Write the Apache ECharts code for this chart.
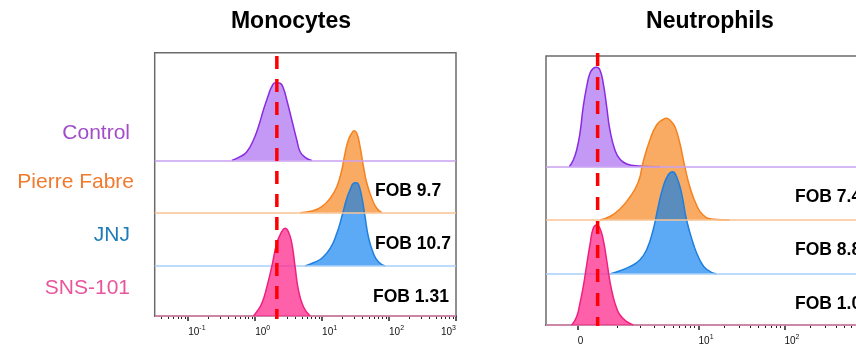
<!DOCTYPE html>
<html><head><meta charset="utf-8">
<script src="https://cdn.jsdelivr.net/npm/echarts@6/dist/echarts.min.js"></script>
<style>html,body{margin:0;padding:0;background:#fff;overflow:hidden;width:856px;height:346px}#c{width:900px;height:346px}</style>
</head><body><div id="c"></div>
<script>
// ================= DATA =================
const groups = ['Control', 'Pierre Fabre', 'JNJ', 'SNS-101'];
const panelTitles = ['Monocytes', 'Neutrophils'];
const monoFob = ['FOB 9.7', 'FOB 10.7', 'FOB 1.31'];
const neutFob = ['FOB 7.4', 'FOB 8.8', 'FOB 1.0'];
const monoRef = 2.11;   // dashed reference line (fluorescence)
const neutRef = 0.44;

// Monocytes (fluorescence, relative count)
const monoControlX = [0.449,0.597,0.752,0.944,1.12,1.33,1.58,1.77,1.99,2.36,2.64,2.97,3.53,4.19,4.70,5.57,7.01];
const monoControlY = [0,3.8,8.8,20.5,33.8,50.5,65.5,73.8,77.8,77.2,72.2,60.5,40.5,20.5,8.8,3.2,0];
const monoPierreX  = [4.70,7.41,9.91,13.2,16.6,19.7,22.0,24.7,27.7,30.0,33.0,36.9,41.5,46.6,55.2,65.5,77.8];
const monoPierreY  = [0,2,6,14.4,26,42.7,59.4,72.7,79.4,82,79.4,66,46,29.4,14.4,4.4,0];
const monoJnjX     = [5.57,7.41,9.9,13.2,16.6,19.7,23.4,26.8,29.3,32.2,34.8,39.1,43.8,49.1,58.3,69.2,87.1];
const monoJnjY     = [0,3.3,7.7,17.7,32.7,49.3,67.7,77.7,82.7,83.3,82,69.3,49.3,29.3,12.7,4.3,0];
const monoSnsX     = [0.944,1.06,1.26,1.50,1.77,2.11,2.50,2.80,3.14,3.53,3.95,4.43,5.26,6.62];
const monoSnsY     = [0,4.3,12.7,29.3,49.3,72.7,84.3,87.7,84.3,72.7,49.3,26,9.3,0];

// Neutrophils (fluorescence, relative count)
const neutControlX = [-0.178,-0.092,-0.021,0.048,0.118,0.191,0.263,0.337,0.416,0.496,0.581,0.673,0.766,0.920,1.093,1.357,1.914,3.50];
const neutControlY = [0,6.7,16.7,33.4,60,80,93.4,98.4,99.4,96.7,83.4,60,36.7,16.7,7.4,2.7,0.7,0];
const neutPierreX  = [0.496,0.766,1.093,1.493,1.914,2.20,2.66,3.21,3.84,4.21,4.60,5.28,6.04,6.91,7.90,9.47,11.3,14.8,23.1];
const neutPierreY  = [0,3.5,11,23,38,58,80,95,100.7,101.7,100,93.3,76.7,53.3,33.3,15,5,0.7,0];
const neutJnjX     = [0.766,1.093,1.493,2.00,2.42,2.91,3.35,3.84,4.40,4.96,5.53,6.33,7.24,8.65,10.35,12.4,16.2];
const neutJnjY     = [0,3.3,7.3,14,24,44,67.3,87.3,99,102.3,97.3,80.7,54,30.7,14,4.7,0];
const neutSnsX     = [-0.126,-0.021,0.048,0.118,0.191,0.263,0.337,0.416,0.496,0.581,0.673,0.766,0.866,0.975,1.093,1.357,1.651];
const neutSnsY     = [0,8.3,21.7,38.3,60,80,96.7,100,96.7,85,65,43.3,28,17,10,3.3,0];

// Axis ticks
const monoMajor = [0.1, 1, 10, 100, 1000];
const monoMajorLabels = ['-1', '0', '1', '2', '3'];
const neutMajor = [0, 10, 100, 1000];
const neutMajorLabels = ['0', '1', '2', '3'];

// ================= LAYOUT / STYLE =================
const FONT = '"Liberation Sans", Arial, sans-serif';
const GL = {left: 154.7, top: 52.7, width: 301.3, height: 263.3};
const GR = {left: 546, top: 56, width: 324.3, height: 269};
const monoBase = [155.5, 103.3, 50, 0];
const neutBase = [158.3, 105, 51, 0];
const lineCol = ['#8a2be2', '#f5821f', '#1e7fe0', '#f0207f'];
const fillCol = ['rgba(160,90,240,0.62)', 'rgba(246,138,40,0.72)', 'rgba(0,122,240,0.64)', 'rgba(255,40,140,0.74)'];
const baseCol = ['#c8a0f2', '#f8c593', '#a9d0f7', '#f79cc4'];
const labelCol = ['#a34cc8', '#f07a2e', '#1c7bb8', '#e8559d'];

// biexponential-like transform for neutrophil axis (decade units)
const BW = 0.784;
const T = v => Math.asinh(v / BW) / Math.LN10;

const monoMinor = [];
for (let d = -2; d <= 2; d++) for (let k = 2; k <= 9; k++) {
  const v = k * Math.pow(10, d);
  if (v > Math.pow(10, -1.5) && v < 1000) monoMinor.push(Math.log10(v));
}
const neutMinor = [];
for (let d = 0; d <= 2; d++) for (let k = (d === 0 ? 1 : 2); k <= 9; k++) neutMinor.push(T(k * Math.pow(10, d)));

const zip = (xs, ys, f) => xs.map((x, i) => [f ? f(x) : x, ys[i]]);

const rich = {
  b: {fontSize: 10, fontFamily: FONT, color: '#111', verticalAlign: 'bottom', lineHeight: 12},
  s: {fontSize: 7, fontFamily: FONT, color: '#111', verticalAlign: 'bottom', lineHeight: 12, padding: [0, 0, 5, 0]}
};

const xAxis = [
  {type: 'log', gridIndex: 0, logBase: 10, min: Math.pow(10, -1.5), max: 1000, show: false},
  {type: 'value', gridIndex: 0, position: 'bottom', min: -1.5, max: 3,
    axisLine: {show: true, onZero: false, lineStyle: {color: '#333', width: 1.5}},
    axisTick: {show: true, customValues: monoMajor.map(Math.log10), length: 5, lineStyle: {color: '#222', width: 1.5}},
    axisLabel: {show: true, customValues: monoMajor.map(Math.log10), margin: 9, align: 'left', alignMaxLabel: 'right',
      formatter: v => { const i = monoMajor.findIndex(m => Math.abs(Math.log10(m) - v) < 1e-6); return '{b|10}{s|' + monoMajorLabels[i] + '}'; },
      rich: rich},
    splitLine: {show: false}},
  {type: 'value', gridIndex: 0, position: 'bottom', min: -1.5, max: 3,
    axisLine: {show: false, onZero: false},
    axisTick: {show: true, customValues: monoMinor, length: 3, lineStyle: {color: '#222', width: 1}},
    axisLabel: {show: false}, splitLine: {show: false}},
  {type: 'value', gridIndex: 1, position: 'bottom', min: -0.3686, max: T(1000),
    axisLine: {show: true, onZero: false, lineStyle: {color: '#333', width: 1.5}},
    axisTick: {show: true, customValues: neutMajor.map(T), length: 5, lineStyle: {color: '#222', width: 1.5}},
    axisLabel: {show: true, customValues: neutMajor.map(T), margin: 9, align: 'left', alignMaxLabel: 'right',
      formatter: v => { const i = neutMajor.findIndex(m => Math.abs(T(m) - v) < 1e-6); return i === 0 ? '{b|0}' : '{b|10}{s|' + neutMajorLabels[i] + '}'; },
      rich: rich},
    splitLine: {show: false}},
  {type: 'value', gridIndex: 1, position: 'bottom', min: -0.3686, max: T(1000),
    axisLine: {show: false, onZero: false},
    axisTick: {show: true, customValues: neutMinor, length: 3, lineStyle: {color: '#222', width: 1}},
    axisLabel: {show: false}, splitLine: {show: false}}
];

const yAxis = [];
monoBase.forEach(b => yAxis.push({type: 'value', gridIndex: 0, min: -b, max: GL.height - b, show: false, axisLine: {onZero: false}}));
neutBase.forEach(b => yAxis.push({type: 'value', gridIndex: 1, min: -b, max: GR.height - b, show: false, axisLine: {onZero: false}}));

const monoSets = [[monoControlX, monoControlY], [monoPierreX, monoPierreY], [monoJnjX, monoJnjY], [monoSnsX, monoSnsY]];
const neutSets = [[neutControlX, neutControlY], [neutPierreX, neutPierreY], [neutJnjX, neutJnjY], [neutSnsX, neutSnsY]];

function hist(name, data, xi, yi, k) {
  return {
    name: name, type: 'line', xAxisIndex: xi, yAxisIndex: yi, data: data,
    symbol: 'none', smooth: 0.5, z: 2 + k,
    lineStyle: {color: lineCol[k], width: 1.5},
    areaStyle: {color: fillCol[k], opacity: 1},
    markLine: {silent: true, symbol: 'none', label: {show: false}, animation: false,
      lineStyle: {color: baseCol[k], width: 1.5, type: 'solid'}, data: [{yAxis: 0}]}
  };
}
const series = [];
monoSets.forEach((s, k) => series.push(hist(groups[k], zip(s[0], s[1]), 0, k, k)));
neutSets.forEach((s, k) => series.push(hist(groups[k], zip(s[0], s[1], T), 3, 4 + k, k)));
series.push({type: 'line', xAxisIndex: 0, yAxisIndex: 3, clip: false, symbol: 'none', z: 20,
  data: [[monoRef, GL.height - 3.3], [monoRef, -3]],
  lineStyle: {color: '#ff0000', width: 3.5, type: [13, 10]}});
series.push({type: 'line', xAxisIndex: 3, yAxisIndex: 7, clip: false, symbol: 'none', z: 20,
  data: [[T(neutRef), GR.height + 3], [T(neutRef), -1]],
  lineStyle: {color: '#ff0000', width: 3.5, type: [13, 11]}});

function txt(x, y, text, font, color, align) {
  return {type: 'text', x: x, y: y, z: 50, silent: true,
    style: {text: text, font: font, fill: color, align: align, verticalAlign: 'middle', textAlign: align, textVerticalAlign: 'middle'}};
}
const graphic = [
  txt(291, 22, panelTitles[0], 'bold 23px ' + FONT, '#000', 'center'),
  txt(710, 22, panelTitles[1], 'bold 23px ' + FONT, '#000', 'center'),
  txt(130, 133, groups[0], '21px ' + FONT, labelCol[0], 'right'),
  txt(134, 182, groups[1], '21px ' + FONT, labelCol[1], 'right'),
  txt(130, 235, groups[2], '21px ' + FONT, labelCol[2], 'right'),
  txt(130, 288, groups[3], '21px ' + FONT, labelCol[3], 'right'),
  txt(375, 191, monoFob[0], 'bold 17.5px ' + FONT, '#000', 'left'),
  txt(375, 244, monoFob[1], 'bold 17.5px ' + FONT, '#000', 'left'),
  txt(373, 297, monoFob[2], 'bold 17.5px ' + FONT, '#000', 'left'),
  txt(795, 197, neutFob[0], 'bold 17.5px ' + FONT, '#000', 'left'),
  txt(795, 250, neutFob[1], 'bold 17.5px ' + FONT, '#000', 'left'),
  txt(795, 304, neutFob[2], 'bold 17.5px ' + FONT, '#000', 'left')
];

const chart = echarts.init(document.getElementById('c'), null, {renderer: 'canvas'});
chart.setOption({
  animation: false,
  backgroundColor: '#fff',
  grid: [
    Object.assign({show: true, borderColor: '#6b6b6b', borderWidth: 1.5, backgroundColor: 'transparent', containLabel: false}, GL),
    Object.assign({show: true, borderColor: '#6b6b6b', borderWidth: 1.5, backgroundColor: 'transparent', containLabel: false}, GR)
  ],
  xAxis: xAxis, yAxis: yAxis, series: series, graphic: graphic
});
</script></body></html>
